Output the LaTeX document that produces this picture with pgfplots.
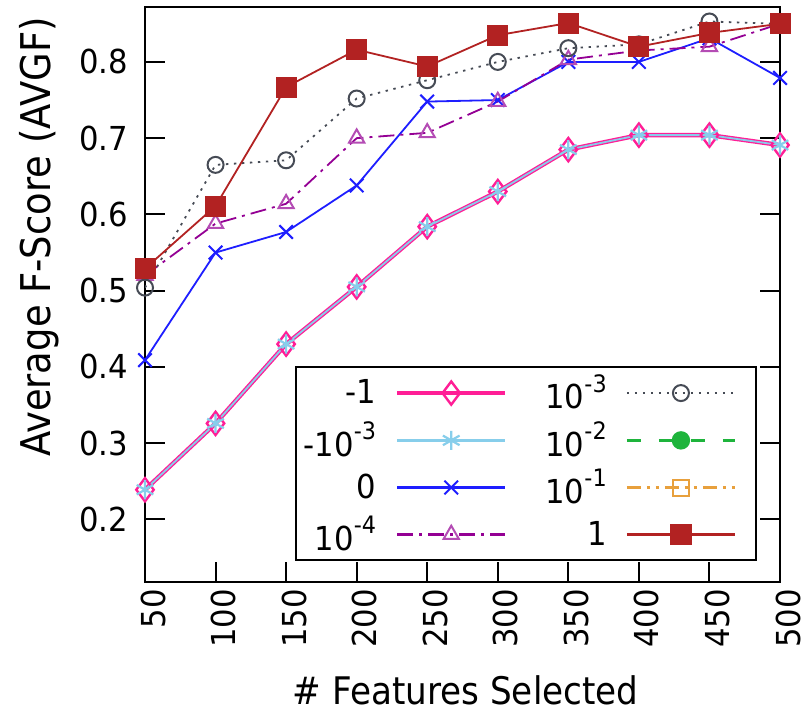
\documentclass[border=0pt]{standalone}
\usepackage{fontspec}
\setmainfont{DejaVu Sans}
\newfontfamily\tickfont[FakeStretch=0.93]{DejaVu Sans}
\newfontfamily\labfont[FakeStretch=0.9]{DejaVu Sans}
\usepackage{pgfplots}
\pgfplotsset{compat=1.18}
\usepackage{pgfplotstable}

\definecolor{pinkc}{RGB}{255,30,150}
\definecolor{cyanc}{RGB}{135,206,235}
\definecolor{bluec}{RGB}{30,30,255}
\definecolor{purpc}{RGB}{148,0,148}
\definecolor{grayc}{RGB}{70,75,85}
\definecolor{greenc}{RGB}{30,180,60}
\definecolor{orangec}{RGB}{232,160,60}
\definecolor{redc}{RGB}{178,34,34}

\newcommand\sups[1]{\raisebox{0.5em}{\fontsize{12}{13}\selectfont #1}}

\pgfplotstableread{
x    m1    mm3   z     p4    p3    p1
50   0.239 0.239 0.409 0.520 0.504 0.529
100  0.326 0.326 0.550 0.588 0.665 0.611
150  0.430 0.430 0.577 0.614 0.671 0.767
200  0.505 0.505 0.638 0.700 0.752 0.816
250  0.584 0.584 0.748 0.707 0.776 0.794
300  0.630 0.630 0.750 0.748 0.800 0.835
350  0.685 0.685 0.800 0.803 0.818 0.851
400  0.704 0.704 0.800 0.815 0.823 0.820
450  0.704 0.704 0.831 0.820 0.853 0.838
500  0.691 0.691 0.779 0.850 0.850 0.850
}\datatab

\pgfplotsset{
  sA/.style={color=pinkc, draw=pinkc, line width=2.2pt, mark=diamond, mark size=5.8pt, mark options={solid, line width=1.2pt, draw=pinkc}},
  sB/.style={color=cyanc, draw=cyanc, line width=0.9pt, mark=asterisk, mark size=4.8pt, mark options={solid, line width=1.1pt, draw=cyanc}},
  sC/.style={color=bluec, draw=bluec, line width=0.9pt, mark=x, mark size=4.8pt, mark options={solid, line width=1pt, draw=bluec}},
  sD/.style={color=purpc, draw=purpc, line width=0.9pt, dash pattern=on 8pt off 3pt on 1.5pt off 3pt, mark=triangle, mark size=4.4pt, mark options={solid, line width=1pt, draw=purpc!70}},
  sE/.style={color=grayc, draw=grayc, line width=0.9pt, dash pattern=on 1.2pt off 2.8pt, mark=o, mark size=4pt, mark options={solid, line width=1pt, draw=grayc}},
  sF/.style={color=greenc, draw=greenc, line width=0.9pt, dash pattern=on 7pt off 9pt, mark=*, mark size=4pt, mark options={solid, draw=greenc, fill=greenc}},
  sG/.style={color=orangec, draw=orangec, line width=0.9pt, dash pattern=on 7pt off 3pt on 1.5pt off 3pt on 1.5pt off 3pt, mark=square, mark size=4pt, mark options={solid, line width=1pt, draw=orangec}},
  sH/.style={color=redc, draw=redc, line width=0.9pt, mark=square*, mark size=4.8pt, mark options={solid, draw=redc, fill=redc}},
}

\begin{document}
\begin{tikzpicture}
\begin{axis}[
  scale only axis,
  width=317.5pt, height=287.5pt,
  xmin=50, xmax=500, ymin=0.118, ymax=0.872,
  xtick={50,100,...,500},
  ytick={0.2,0.3,...,0.8},
  xtick pos=bottom, ytick pos=both,
  tick align=inside,
  major tick length=10pt,
  every tick/.style={black, line width=1pt},
  axis line style={line width=1pt},
  yticklabel style={/pgf/number format/fixed, /pgf/number format/precision=1, /pgf/number format/fixed zerofill, xshift=-5pt},
  /pgf/number format/assume math mode=true,
  tick label style={font=\tickfont\fontsize{16.5}{18}\selectfont},
  xticklabel style={rotate=90, anchor=east, yshift=-4pt},
  xlabel={\# Features Selected},
  ylabel={Average F-Score (AVGF)},
  xlabel style={font=\labfont\fontsize{19}{22}\selectfont, at={(axis description cs:0.505,-0.188)}, anchor=center},
  ylabel style={font=\labfont\fontsize{20.5}{24}\selectfont, at={(axis description cs:-0.167,0.60)}, anchor=center, rotate=0},
  legend columns=2,
  legend plot pos=right,
  legend cell align=right,
  legend image code/.code={\draw[mark repeat=2,mark phase=2,#1] plot coordinates {(0pt,0pt) (27pt,0pt) (54pt,0pt)}; \path (62pt,0pt);},
  legend style={at={(0.964,0.0365)}, anchor=south east, line width=1pt,
    font=\tickfont\fontsize{16.5}{18}\selectfont, row sep=1pt, inner xsep=2pt, inner ysep=1.5pt,
    /tikz/every odd column/.append style={column sep=7.5pt},
    /tikz/every even column/.append style={column sep=9pt}},
]
\addplot[sA, forget plot] table[x=x, y=m1] {\datatab};
\addplot[sB, forget plot] table[x=x, y=mm3] {\datatab};
\addplot[sC, forget plot] table[x=x, y=z] {\datatab};
\addplot[sD, forget plot] table[x=x, y=p4] {\datatab};
\addplot[sE, forget plot] table[x=x, y=p3] {\datatab};
\addplot[sH, forget plot] table[x=x, y=p1] {\datatab};

\addlegendimage{sA}\addlegendentry{-1}
\addlegendimage{sE, line width=1.2pt}\addlegendentry{10\sups{-3}}
\addlegendimage{sB, line width=1.2pt}\addlegendentry{-10\sups{-3}}
\addlegendimage{sF, line width=1.2pt}\addlegendentry{10\sups{-2}}
\addlegendimage{sC, line width=1.2pt}\addlegendentry{0}
\addlegendimage{sG, line width=1.2pt}\addlegendentry{10\sups{-1}}
\addlegendimage{sD, line width=1.2pt}\addlegendentry{10\sups{-4}}
\addlegendimage{sH, line width=1.2pt}\addlegendentry{1}
\end{axis}
\path (current axis.south west) ++(-72.5pt,-66.5pt);
\path (current axis.north east) ++(15.5pt,3.5pt);
\end{tikzpicture}
\end{document}
